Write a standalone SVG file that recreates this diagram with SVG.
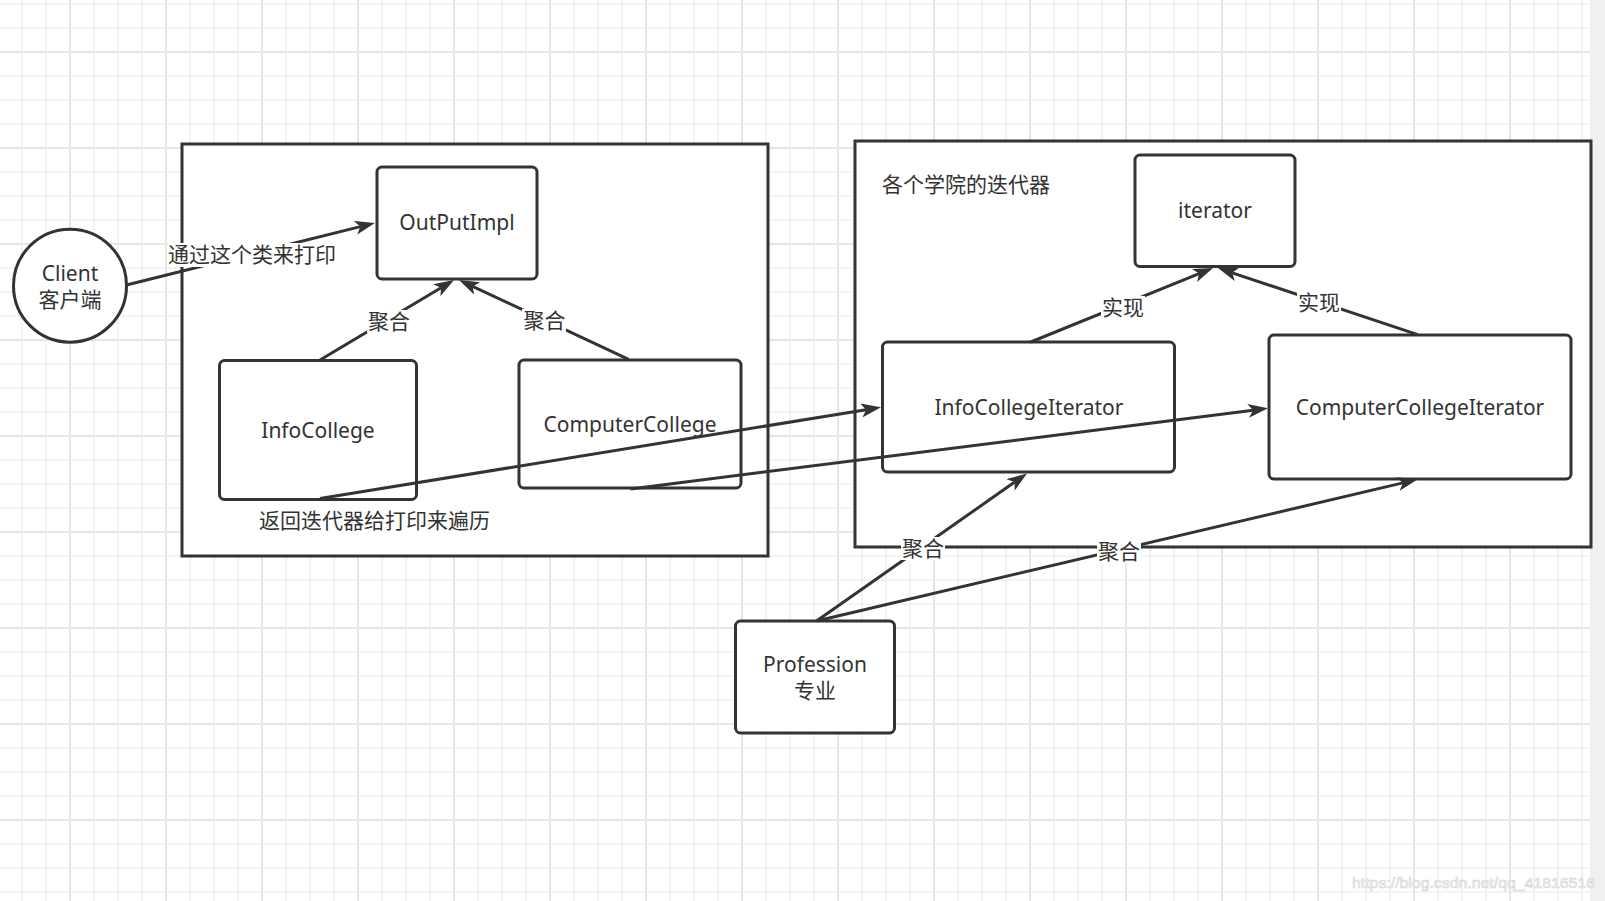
<svg xmlns="http://www.w3.org/2000/svg" width="1605" height="901" viewBox="0 0 1605 901">
<style>
.box{fill:#fff;stroke:#333;stroke-width:3}
.frame{fill:#fff;stroke:#333;stroke-width:3}
.edge{fill:none;stroke:#333;stroke-width:3;marker-end:url(#arrow)}
.plain{fill:none;stroke:#333;stroke-width:3}
.lbg{fill:#fff;stroke:none}
text{font-family:"Noto Sans","Noto Sans CJK SC",sans-serif;font-size:21px;fill:#333}
.c{text-anchor:middle;dominant-baseline:central}
.l{text-anchor:start;dominant-baseline:central}
.wm{font-family:"Liberation Sans",Arial,sans-serif;font-size:15px;fill:#f6f6f6;stroke:#d4d4d4;stroke-width:0.6}
</style>
<defs>
<pattern id="grid" patternUnits="userSpaceOnUse" x="-27" y="-45" width="96" height="96">
<rect width="96" height="96" fill="#fff"/>
<path d="M25 0V96M49 0V96M73 0V96M0 25H96M0 49H96M0 73H96" stroke="#f1f1f1" stroke-width="1.6" fill="none"/>
<path d="M1 0V96M0 1H96" stroke="#e6e6e6" stroke-width="2" fill="none"/>
</pattern>
<marker id="arrow" markerUnits="userSpaceOnUse" markerWidth="22" markerHeight="16" refX="5" refY="7" orient="auto">
<path d="M0,0 L20,7 L0,14 L5,7 Z" fill="#333"/>
</marker>
</defs>
<rect x="0" y="0" width="1605" height="901" fill="url(#grid)"/>
<rect x="1590" y="0" width="15" height="901" fill="#f0f0f0"/>

<g id="container-left">
<rect class="frame" x="182" y="144" width="586" height="412"/>
<text class="c" x="374.5" y="520">返回迭代器给打印来遍历</text>
</g>
<g id="container-right">
<rect class="frame" x="855" y="141" width="736" height="406"/>
<text class="l" x="882" y="184">各个学院的迭代器</text>
</g>

<g id="client">
<circle class="box" cx="70" cy="285.7" r="56.5"/>
<text class="c" x="70" y="273">Client</text>
<text class="c" x="70" y="299">客户端</text>
</g>
<g id="outputimpl">
<rect class="box" x="377" y="167" width="160" height="112" rx="5"/>
<text class="c" x="457" y="222">OutPutImpl</text>
</g>
<g id="infocollege">
<rect class="box" x="219.5" y="360.5" width="197" height="139" rx="5"/>
<text class="c" x="318" y="430">InfoCollege</text>
</g>
<g id="computercollege">
<rect class="box" x="519" y="360" width="222" height="128" rx="5"/>
<text class="c" x="630" y="424">ComputerCollege</text>
</g>
<g id="iterator">
<rect class="box" x="1135" y="155" width="160" height="111.5" rx="5"/>
<text class="c" x="1215" y="210">iterator</text>
</g>
<g id="infocollegeiterator">
<rect class="box" x="882.5" y="342" width="292" height="130" rx="5"/>
<text class="c" x="1029" y="407">InfoCollegeIterator</text>
</g>
<g id="computercollegeiterator">
<rect class="box" x="1269" y="335" width="302" height="144" rx="5"/>
<text class="c" x="1420" y="407">ComputerCollegeIterator</text>
</g>
<g id="profession">
<rect class="box" x="735.5" y="621" width="159" height="112" rx="5"/>
<text class="c" x="815" y="664">Profession</text>
<text class="c" x="815" y="690">专业</text>
</g>

<g id="connectors">
<line class="edge" x1="126.5" y1="285" x2="360.4" y2="226.6"/>
<line class="edge" x1="320" y1="360" x2="441.1" y2="287.7"/>
<line class="edge" x1="628.6" y1="359.3" x2="472.6" y2="286.4"/>
<line class="edge" x1="1030.8" y1="342" x2="1199.1" y2="273.6"/>
<line class="edge" x1="1417.7" y1="334.7" x2="1232.2" y2="272.8"/>
<line class="edge" x1="320" y1="498.5" x2="866.2" y2="409.7"/>
<line class="edge" x1="630.5" y1="489" x2="1253.1" y2="410.2"/>
<line class="edge" x1="816.5" y1="621" x2="1014.7" y2="482.1"/>
<line class="edge" x1="816.5" y1="621" x2="1402.9" y2="482.9"/>

<rect class="lbg" x="168" y="243" width="170" height="24"/>
<text class="c" x="252" y="254">通过这个类来打印</text>
<rect class="lbg" x="367" y="310" width="44" height="23"/>
<text class="c" x="389" y="321">聚合</text>
<rect class="lbg" x="522" y="309" width="44" height="23"/>
<text class="c" x="544.5" y="320">聚合</text>
<rect class="lbg" x="1101" y="296" width="44" height="23"/>
<text class="c" x="1123" y="307">实现</text>
<rect class="lbg" x="1297" y="291" width="44" height="23"/>
<text class="c" x="1319" y="302">实现</text>
<rect class="lbg" x="901" y="537" width="44" height="23"/>
<text class="c" x="923" y="548">聚合</text>
<rect class="lbg" x="1097" y="540" width="44" height="23"/>
<text class="c" x="1119" y="551">聚合</text>
</g>

<text class="wm" x="1352" y="888" textLength="243" lengthAdjust="spacingAndGlyphs">https://blog.csdn.net/qq_41816516</text>
</svg>
